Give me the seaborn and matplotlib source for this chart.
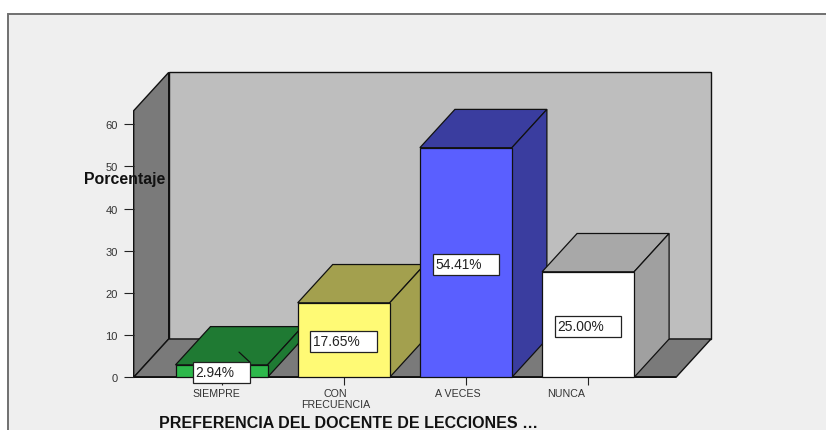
import matplotlib
matplotlib.use("Agg")
import matplotlib.pyplot as plt
import matplotlib.transforms as mtrans
from matplotlib.patches import Polygon, Rectangle
from matplotlib.lines import Line2D
import seaborn as sns

categories = ["SIEMPRE", "CON\nFRECUENCIA", "A VECES", "NUNCA"]
values = [2.94, 17.65, 54.41, 25.00]
value_labels = ["2.94%", "17.65%", "54.41%", "25.00%"]
y_ticks = [0, 10, 20, 30, 40, 50, 60]
front_colors = ["#2DB84B", "#FFFA75", "#5A5FFF", "#FFFFFF"]
top_colors = ["#1F7A33", "#A3A04E", "#3A3D9F", "#A8A8A8"]
side_colors = ["#1F7A33", "#A3A04E", "#3A3D9F", "#A0A0A0"]
label_shift_px = [-5.5, -8, -8, -22]
box_widths_px = [57, 66.7, 66.7, 66.7]

W, H = 826, 431
sns.set_theme(style="white", rc={"font.family": ["Liberation Sans", "DejaVu Sans"]})
plt.rcParams["font.family"] = ["Liberation Sans", "DejaVu Sans"]

fig = plt.figure(figsize=(W / 100, H / 100), dpi=100, facecolor="white")
fig.add_artist(Rectangle((8 / W, -0.1), 1, (H - 15) / H + 0.1, transform=fig.transFigure,
                         facecolor="#EFEFEF", edgecolor="#707070", linewidth=1.4, zorder=-5))

left, right, y0, ytop = 133.7, 676.0, 378.3, 111.7
ax = fig.add_axes([left / W, (H - y0) / H, (right - left) / W, (y0 - ytop) / H])
ax.patch.set_alpha(0)

px_x, px_y = 122.2, 4.22
x_center0 = 221.5
xlim = ((left - x_center0) / px_x, (right - x_center0) / px_x)
ylim = (0, (y0 - ytop) / px_y)
depth_x, depth_y = 35 / px_x, 38.3 / px_y
bar_w = 92 / px_x

sns.barplot(x=categories, y=values, hue=categories, palette=front_colors, order=categories,
            hue_order=categories, width=bar_w, legend=False, ax=ax, saturation=1,
            edgecolor="#111111", linewidth=0.9)
ax.set_xlim(*xlim)
ax.set_ylim(*ylim)

wall_line = dict(edgecolor="#111111", linewidth=1.0, clip_on=False, joinstyle="miter")
x0, x1 = xlim
ymax = ylim[1]
ax.add_patch(Polygon([(x0 + depth_x, depth_y), (x1 + depth_x, depth_y),
                      (x1 + depth_x, ymax + depth_y), (x0 + depth_x, ymax + depth_y)],
                     facecolor="#BEBEBE", zorder=0.4, **wall_line))
ax.add_patch(Polygon([(x0, 0), (x0 + depth_x, depth_y), (x0 + depth_x, ymax + depth_y), (x0, ymax)],
                     facecolor="#7A7A7A", zorder=0.5, **wall_line))
ax.add_patch(Polygon([(x0, 0), (x1, 0), (x1 + depth_x, depth_y), (x0 + depth_x, depth_y)],
                     facecolor="#7A7A7A", zorder=0.5, **wall_line))

edge = dict(edgecolor="#111111", linewidth=0.9, clip_on=False, joinstyle="miter")
for i, (bar, v) in enumerate(zip(ax.patches, values)):
    z = 3 + i
    bar.set_zorder(z + 0.2)
    bar.set_clip_on(False)
    xa, xb = i - bar_w / 2, i + bar_w / 2
    ax.add_patch(Polygon([(xa, v), (xb, v), (xb + depth_x, v + depth_y), (xa + depth_x, v + depth_y)],
                         facecolor=top_colors[i], zorder=z, **edge))
    ax.add_patch(Polygon([(xb, 0), (xb + depth_x, depth_y), (xb + depth_x, v + depth_y), (xb, v)],
                         facecolor=side_colors[i], zorder=z, **edge))

# front baseline
ax.plot(xlim, [0, 0], color="#111111", lw=1.3, zorder=2.9, clip_on=False, solid_capstyle="butt")

# value boxes anchored to the middle of each bar (box size in pixels)
box_h = 21
for i, (v, txt, box_w) in enumerate(zip(values, value_labels, box_widths_px)):
    tr = mtrans.ScaledTranslation(i, v / 2, ax.transData)
    ax.add_patch(Rectangle((-box_w / 2, -box_h / 2 - 1.7), box_w, box_h, transform=tr,
                           facecolor="white", edgecolor="#222222", linewidth=0.9,
                           zorder=20, clip_on=False))
    ax.annotate(txt, xy=(i, v / 2), xytext=(-box_w / 2 + 2.5, -1.2), textcoords="offset pixels",
                ha="left", va="center", fontsize=9.9, color="#222222", zorder=21)
leader = mtrans.ScaledTranslation(0, values[0] / 2, ax.transData)
ax.add_line(Line2D([box_widths_px[0] / 2 - 11, box_widths_px[0] / 2], [19, 8.8], transform=leader,
                   color="#111111", lw=0.9, zorder=19, clip_on=False))

ax.set_axisbelow(False)
sns.despine(ax=ax, left=True, bottom=True, top=True, right=True)
ax.set_yticks(y_ticks)
ax.set_yticklabels([str(t) for t in y_ticks], fontsize=8, color="#333333")
ax.tick_params(axis="y", left=True, length=7.2, width=0.8, color="#222222", pad=4.3)
ax.set_xticks(range(len(categories)))
ax.set_xticklabels(categories, fontsize=7.7, color="#333333", linespacing=1.05)
ax.tick_params(axis="x", bottom=True, length=5.8, width=0.8, color="#222222", pad=2)
for lab, dx in zip(ax.get_xticklabels(), label_shift_px):
    lab.set_transform(lab.get_transform() + mtrans.Affine2D().translate(dx, 0))

ax.set_ylabel("Porcentaje", rotation=0, fontsize=11.4, fontweight="bold", color="#111111",
              ha="center", va="center")
ax.yaxis.set_label_coords((124.5 - left) / (right - left), (y0 - 180) / (y0 - ytop))
ax.set_xlabel("PREFERENCIA DEL DOCENTE DE LECCIONES …", fontsize=11.55, fontweight="bold",
              color="#111111", ha="center", va="center")
ax.xaxis.set_label_coords((349 - left) / (right - left), (y0 - 424) / (y0 - ytop))

fig.savefig("out.png", dpi=100, facecolor="white")
